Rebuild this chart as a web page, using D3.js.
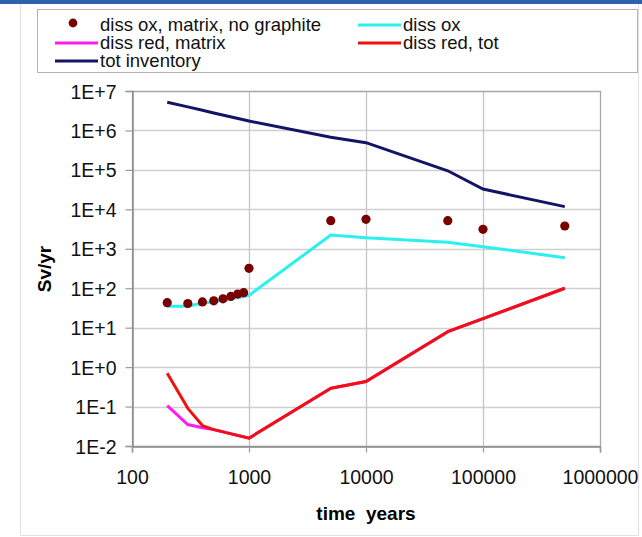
<!DOCTYPE html>
<html>
<head>
<meta charset="utf-8">
<script src="https://cdn.jsdelivr.net/npm/d3@7"></script>
<style>
  body { margin: 0; background: #fff; }
  svg { display: block; font-family: "Liberation Sans", Arial, sans-serif; }
</style>
</head>
<body>
<svg id="chart"></svg>
<script>
// values
const dotYears = [200, 300, 400, 500, 600, 700, 800, 900, 1000, 5000, 10000, 50000, 100000, 500000];
const dissOxMatrixNoGraphite = [43, 41, 45, 48, 54, 62, 71, 77, 320, 5150, 5570, 5150, 3110, 3780];
const dissOx = [35, 35, 42, 45, 50, 55, 58, 62, 66, 2230, 1900, 1460, 1130, 594];

const lineYears = [200, 300, 400, 500, 1000, 5000, 10000, 50000, 100000, 500000];
const dissRedMatrix = [0.105, 0.035, 0.029, 0.026, 0.0158, 0.29, 0.43, 7.9, 17, 100];
const dissRedTot = [0.70, 0.090, 0.033, 0.026, 0.0158, 0.29, 0.43, 7.9, 17, 100];
const totInventory = [5.2e6, 3.95e6, 3.24e6, 2.78e6, 1.73e6, 6.7e5, 4.9e5, 9.5e4, 3.27e4, 1.17e4];

const xTicks = [100, 1000, 10000, 100000, 1000000];
const yTicks = [1e-2, 1e-1, 1e0, 1e1, 1e2, 1e3, 1e4, 1e5, 1e6, 1e7];

const width = 642, height = 537;
const plot = { left: 132, right: 600, top: 91, bottom: 446 };

const svg = d3.select("#chart").attr("width", width).attr("height", height);

// slide frame
svg.append("rect").attr("x", 0).attr("y", 0).attr("width", width).attr("height", 4).attr("fill", "#2f62ab");
svg.append("path")
  .attr("d", `M20.5,4V535.5H638.5V4`)
  .attr("fill", "none").attr("stroke", "#e2e2e2");

const x = d3.scaleLog().domain([100, 1e6]).range([plot.left, plot.right]);
const y = d3.scaleLog().domain([1e-2, 1e7]).range([plot.bottom, plot.top]);

// grid
svg.append("g")
  .selectAll("line")
  .data(yTicks)
  .join("line")
  .attr("x1", plot.left).attr("x2", plot.right)
  .attr("y1", d => Math.round(y(d)) + 0.5).attr("y2", d => Math.round(y(d)) + 0.5)
  .attr("stroke", "#cfcfcf").attr("stroke-width", 1.3);

svg.append("g")
  .selectAll("line")
  .data(xTicks.slice(1, -1))
  .join("line")
  .attr("x1", d => Math.round(x(d)) + 0.5).attr("x2", d => Math.round(x(d)) + 0.5)
  .attr("y1", plot.top).attr("y2", plot.bottom)
  .attr("stroke", "#c4c4c4").attr("stroke-width", 1.3);

// plot frame
svg.append("rect")
  .attr("x", plot.left + 0.5).attr("y", plot.top + 0.5)
  .attr("width", plot.right - plot.left).attr("height", plot.bottom - plot.top)
  .attr("fill", "none").attr("stroke", "#a8a8a8").attr("stroke-width", 1.3);

const yFmt = d => {
  const e = Math.round(Math.log10(d));
  return "1E" + (e < 0 ? "-" : "+") + Math.abs(e);
};

const yAxis = svg.append("g")
  .attr("transform", `translate(${plot.left + 0.5},0)`)
  .call(d3.axisLeft(y).tickValues(yTicks).tickFormat(yFmt).tickSize(7).tickPadding(9));

const xAxis = svg.append("g")
  .attr("transform", `translate(0,${plot.bottom + 0.5})`)
  .call(d3.axisBottom(x).tickValues(xTicks).tickFormat(d3.format("d")).tickSize(6).tickPadding(18));

[yAxis, xAxis].forEach(a => {
  a.select(".domain").attr("stroke", "#8c8c8c").attr("stroke-width", 1.5);
  a.selectAll(".tick line").attr("stroke", "#9a9a9a").attr("stroke-width", 1.2);
  a.selectAll(".tick text").attr("fill", "#111").attr("font-size", "19.5px").attr("font-family", null);
});
yAxis.selectAll(".tick text").attr("dy", "0.36em");

// axis titles
svg.append("text")
  .attr("x", 366).attr("y", 520)
  .attr("text-anchor", "middle")
  .attr("font-weight", "bold").attr("font-size", "19px")
  .style("white-space", "pre")
  .text("time  years");

svg.append("text")
  .attr("transform", "translate(51,269) rotate(-90)")
  .attr("text-anchor", "middle")
  .attr("font-weight", "bold").attr("font-size", "19px")
  .text("Sv/yr");

// series
const line = vals => d3.line()
  .x((d, i) => x(lineYears[i]))
  .y(d => y(d))(vals);

svg.append("path")
  .attr("d", d3.line().x((d, i) => x(dotYears[i])).y(d => y(d))(dissOx))
  .attr("fill", "none").attr("stroke", "#2af0f0").attr("stroke-width", 3);

svg.append("path")
  .attr("d", line(dissRedMatrix))
  .attr("fill", "none").attr("stroke", "#ff1cf0").attr("stroke-width", 3);

svg.append("path")
  .attr("d", line(dissRedTot))
  .attr("fill", "none").attr("stroke", "#f01010").attr("stroke-width", 3).attr("stroke-linejoin", "round");

svg.append("path")
  .attr("d", line(totInventory))
  .attr("fill", "none").attr("stroke", "#141466").attr("stroke-width", 3);

svg.append("g")
  .selectAll("circle")
  .data(dissOxMatrixNoGraphite)
  .join("circle")
  .attr("cx", (d, i) => x(dotYears[i]))
  .attr("cy", d => y(d))
  .attr("r", 4.6)
  .attr("fill", "#780000");

// legend
svg.append("rect")
  .attr("x", 37.5).attr("y", 9.5).attr("width", 600).attr("height", 63)
  .attr("fill", "#fff").attr("stroke", "#b4b4b4");

const legendItems = [
  { label: "diss ox, matrix, no graphite", color: "#780000", dot: true, lx: 55, row: 0 },
  { label: "diss red, matrix", color: "#ff1cf0", lx: 55, row: 1 },
  { label: "tot inventory", color: "#141466", lx: 55, row: 2 },
  { label: "diss ox", color: "#2af0f0", lx: 358, row: 0 },
  { label: "diss red, tot", color: "#f01010", lx: 358, row: 1 }
];

const leg = svg.append("g")
  .selectAll("g")
  .data(legendItems)
  .join("g")
  .attr("transform", d => `translate(${d.lx},${31 + d.row * 18})`);

leg.filter(d => d.dot).append("circle")
  .attr("cx", 18).attr("cy", -8).attr("r", 4.4).attr("fill", d => d.color);

leg.filter(d => !d.dot).append("line")
  .attr("x1", 0).attr("x2", 43).attr("y1", -6).attr("y2", -6)
  .attr("stroke", d => d.color).attr("stroke-width", 3);

leg.append("text")
  .attr("x", 45).attr("y", 0)
  .attr("font-size", "18.5px").attr("fill", "#111")
  .text(d => d.label);
</script>
</body>
</html>
